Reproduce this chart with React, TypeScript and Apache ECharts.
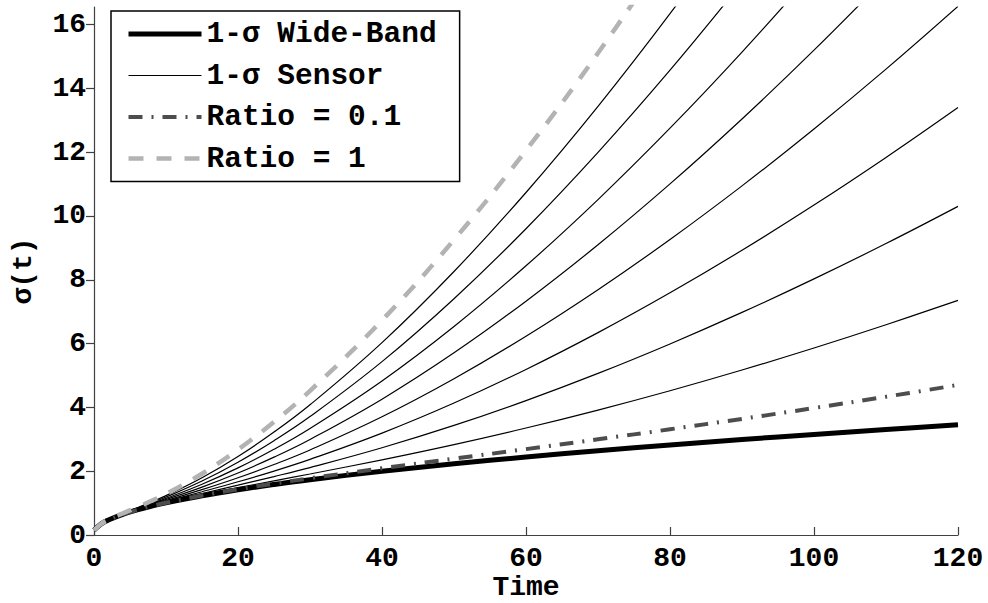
import React, { useEffect, useRef } from "react";
import * as echarts from "echarts";

const times = [0, 1, 2, 4, 6, 8, 10, 15, 20, 25, 30, 40, 50, 60, 70, 80, 90, 100, 110, 120];
const wideBand = [0.15, 0.349, 0.47, 0.648, 0.786, 0.903, 1.007, 1.229, 1.417, 1.582, 1.732, 1.998, 2.232, 2.444, 2.639, 2.821, 2.992, 3.153, 3.307, 3.453];
const ratio01 = [0.15, 0.349, 0.47, 0.648, 0.787, 0.905, 1.01, 1.237, 1.433, 1.611, 1.778, 2.09, 2.392, 2.692, 2.998, 3.314, 3.64, 3.98, 4.334, 4.703];
const ratio1 = [0.15, 0.35, 0.475, 0.679, 0.87, 1.071, 1.288, 1.92, 2.677, 3.547, 4.518, 6.728, 9.252, 12.054, 15.106, 18.39];
const sensor02 = [0.15, 0.349, 0.47, 0.649, 0.789, 0.91, 1.019, 1.262, 1.484, 1.698, 1.912, 2.356, 2.834, 3.353, 3.916, 4.522, 5.171, 5.86, 6.589, 7.355];
const sensor03 = [0.15, 0.349, 0.47, 0.65, 0.793, 0.919, 1.034, 1.302, 1.563, 1.831, 2.114, 2.735, 3.434, 4.213, 5.066, 5.989, 6.977, 8.028, 9.136, 10.301];
const sensor04 = [0.15, 0.349, 0.471, 0.652, 0.799, 0.93, 1.054, 1.356, 1.668, 2.004, 2.37, 3.194, 4.136, 5.189, 6.343, 7.591, 8.925, 10.341, 11.834, 13.399];
const sensor05 = [0.15, 0.349, 0.471, 0.655, 0.807, 0.945, 1.08, 1.422, 1.795, 2.209, 2.665, 3.704, 4.897, 6.229, 7.688, 9.262, 10.943, 12.726, 14.603, 16.571];
const sensor06 = [0.15, 0.349, 0.472, 0.658, 0.816, 0.964, 1.112, 1.502, 1.943, 2.44, 2.994, 4.258, 5.71, 7.329, 9.098, 11.005, 13.041, 15.197, 17.467];
const sensor07 = [0.15, 0.349, 0.473, 0.662, 0.826, 0.985, 1.147, 1.591, 2.103, 2.687, 3.34, 4.829, 6.537, 8.438, 10.514, 12.751, 15.136, 17.662];
const sensor08 = [0.15, 0.349, 0.473, 0.667, 0.839, 1.01, 1.189, 1.69, 2.28, 2.956, 3.711, 5.434, 7.407, 9.6, 11.993, 14.569, 17.315];
const sensor09 = [0.15, 0.349, 0.474, 0.672, 0.853, 1.037, 1.233, 1.794, 2.461, 3.226, 4.082, 6.031, 8.26, 10.736, 13.436, 16.341, 19.438];

const sensorLines = [sensor02, sensor03, sensor04, sensor05, sensor06, sensor07, sensor08, sensor09];
const xTicks = [0, 20, 40, 60, 80, 100, 120];
const yTicks = [0, 2, 4, 6, 8, 10, 12, 14, 16];
const legendNames = ["1-σ Wide-Band", "1-σ Sensor", "Ratio = 0.1", "Ratio = 1"];

const FONT = "'Liberation Mono', 'DejaVu Sans Mono', monospace";

function pairs(vals: number[]) {
  return vals.map((v, i) => [times[i], v]);
}

export default function App() {
  const ref = useRef<HTMLDivElement>(null);
  useEffect(() => {
    if (!ref.current) return;
    const chart = echarts.init(ref.current, null, { renderer: "svg" });
    const textBase = { fontFamily: FONT, fontWeight: "bold" as const, fontSize: 28, color: "#000" };
    const common = { type: "line", showSymbol: false, symbol: "none", smooth: 0.4 };
    const sensorSeries = sensorLines.map((vals) => ({
      ...common,
      name: legendNames[1],
      data: pairs(vals),
      itemStyle: { color: "#000" },
      lineStyle: { color: "#000", width: 1.2 },
      z: 2,
    }));
    chart.setOption({
      animation: false,
      backgroundColor: "#fff",
      grid: { left: 94, right: 30, top: 7, bottom: 68, containLabel: false, outerBoundsMode: "none" },
      xAxis: {
        type: "value",
        min: 0,
        max: 120,
        interval: 20,
        name: "Time",
        nameLocation: "middle",
        nameGap: 39,
        nameMoveOverlap: false,
        nameTextStyle: { ...textBase, lineHeight: 26 },
        axisLine: { lineStyle: { color: "#404040", width: 1.2 } },
        axisTick: { inside: true, length: 8, lineStyle: { color: "#404040", width: 1.2 }, customValues: xTicks },
        axisLabel: { ...textBase, margin: 9, customValues: xTicks },
        splitLine: { show: false },
      },
      yAxis: {
        type: "value",
        min: 0,
        max: 16.55,
        interval: 2,
        name: "σ(t)",
        nameLocation: "middle",
        nameGap: 57,
        nameMoveOverlap: false,
        nameTextStyle: textBase,
        axisLine: { show: true, lineStyle: { color: "#404040", width: 1.2 } },
        axisTick: { show: true, inside: false, length: 8, lineStyle: { color: "#404040", width: 1.2 }, customValues: yTicks },
        axisLabel: { ...textBase, margin: 8, customValues: yTicks },
        splitLine: { show: false },
      },
      legend: {
        orient: "vertical",
        left: 111,
        top: 11,
        itemWidth: 73,
        itemHeight: 14,
        itemGap: 11.5,
        padding: [8, 23, 8, 15],
        borderColor: "#000",
        borderWidth: 1.5,
        borderRadius: 0,
        backgroundColor: "#fff",
        selectedMode: false,
        textStyle: { ...textBase, fontSize: 29.5 },
        itemStyle: { opacity: 0 },
        lineStyle: { width: "inherit" },
        data: legendNames,
        z: 10,
      },
      series: [
        ...sensorSeries,
        {
          ...common,
          name: legendNames[0],
          data: pairs(wideBand),
          itemStyle: { color: "#000" },
          lineStyle: { color: "#000", width: 5 },
          z: 3,
        },
        {
          ...common,
          name: legendNames[2],
          data: pairs(ratio01),
          itemStyle: { color: "#4d4d4d" },
          lineStyle: { color: "#4d4d4d", width: 4, type: [14, 9, 2, 9], cap: "butt" },
          z: 4,
        },
        {
          ...common,
          name: legendNames[3],
          data: pairs(ratio1),
          itemStyle: { color: "#b3b3b3" },
          lineStyle: { color: "#b3b3b3", width: 4.5, type: [15, 13], cap: "butt" },
          z: 4,
        },
      ],
    });
    return () => chart.dispose();
  }, []);
  return (
    <div
      ref={ref}
      style={{ position: "fixed", left: 0, top: 0, width: 988, height: 603, background: "#fff" }}
    />
  );
}
